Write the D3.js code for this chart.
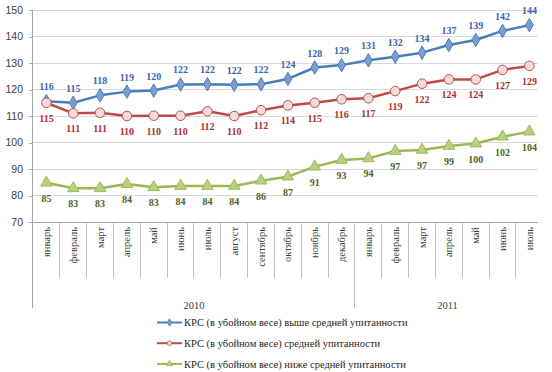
<!DOCTYPE html>
<html>
<head>
<meta charset="utf-8">
<script src="https://cdn.jsdelivr.net/npm/d3@7"></script>
<style>
  body { margin: 0; background: #fff; }
  svg { display: block; }
</style>
</head>
<body>
<div id="chart"></div>
<script>
// Monthly price lines for three grades of cattle, 2010 - July 2011

// Categories
let months = ["январь", "февраль", "март", "апрель", "май", "июнь", "июль", "август",
    "сентябрь", "октябрь", "ноябрь", "декабрь",
    "январь", "февраль", "март", "апрель", "май", "июнь", "июль"];
let years = [
    { label: "2010", from: 0, to: 12 },
    { label: "2011", from: 12, to: 19 }
];
let yTicks = [70, 80, 90, 100, 110, 120, 130, 140, 150];

// Series values (labels show them rounded)
let aboveAvg = [115.6, 115.0, 117.8, 119.2, 119.6, 121.9, 122.0, 121.8, 122.0, 124.0,
    128.3, 129.2, 131.0, 132.4, 133.9, 136.8, 138.7, 142.1, 144.3];
let average = [115.0, 111.0, 111.2, 110.0, 110.1, 110.1, 111.8, 110.0, 112.2, 114.0,
    115.0, 116.3, 116.7, 119.4, 122.2, 123.8, 123.8, 127.4, 128.9];
let belowAvg = [84.8, 82.7, 82.7, 84.3, 83.1, 83.6, 83.6, 83.6, 85.6, 87.1,
    90.9, 93.4, 94.0, 96.8, 97.2, 98.7, 99.6, 102.2, 104.1];

let seriesNames = [
    "КРС (в убойном весе) выше средней упитанности",
    "КРС (в убойном весе) средней упитанности",
    "КРС (в убойном весе) ниже средней упитанности"
];

let series = [
    { name: seriesNames[0], values: aboveAvg, line: "#4A7EBB", fill: "#7B9DD1", stroke: "#4A7EBB", text: "#3A64A6", marker: "diamond", labelPos: "above" },
    { name: seriesNames[1], values: average, line: "#BE4B48", fill: "#F2DCDB", stroke: "#C0504D", text: "#A8322F", marker: "circle", labelPos: "below" },
    { name: seriesNames[2], values: belowAvg, line: "#98B954", fill: "#B9D080", stroke: "#9BBB59", text: "#4F6228", marker: "triangle", labelPos: "below" }
];

// Chart size
let width = 552, height = 372;
let plot = { left: 33, right: 542.8, top: 10, bottom: 222 };

let svg = d3.select("#chart").append("svg")
    .attr("width", width)
    .attr("height", height);

let x = d3.scaleBand()
    .domain(d3.range(months.length))
    .range([plot.left, plot.right])
    .padding(0);

let y = d3.scaleLinear()
    .domain([70, 150])
    .range([plot.bottom, plot.top]);

// Gridlines
svg.append("g")
    .selectAll("line")
    .data(yTicks.slice(1))
    .join("line")
    .attr("x1", plot.left)
    .attr("x2", 538)
    .attr("y1", d => y(d))
    .attr("y2", d => y(d))
    .attr("stroke", "#d9d9d9")
    .attr("stroke-width", 1)
    .attr("shape-rendering", "crispEdges");

// Y axis
let yaxis = svg.append("g")
    .attr("transform", `translate(${plot.left},0)`)
    .call(d3.axisLeft(y).tickValues(yTicks).tickSize(4).tickPadding(6));
yaxis.select(".domain").attr("stroke", "#a6a6a6").attr("d", `M-0.5,${plot.bottom + 86}V${plot.top}`);
yaxis.selectAll(".tick line").attr("stroke", "#a6a6a6");
yaxis.selectAll(".tick text")
    .attr("fill", "#404040")
    .style("font-family", "'Liberation Sans', Arial, sans-serif")
    .style("font-size", "10.5px");
yaxis.attr("shape-rendering", "crispEdges");

// X axis line
svg.append("line")
    .attr("x1", plot.left)
    .attr("x2", 538)
    .attr("y1", plot.bottom)
    .attr("y2", plot.bottom)
    .attr("stroke", "#a6a6a6")
    .attr("shape-rendering", "crispEdges");

// Month separators (year boundaries run longer)
let boundaries = d3.range(1, months.length);
svg.append("g")
    .selectAll("line")
    .data(boundaries)
    .join("line")
    .attr("x1", d => x(d))
    .attr("x2", d => x(d))
    .attr("y1", plot.bottom)
    .attr("y2", d => years.some(yr => yr.from === d) ? plot.bottom + 86 : plot.bottom + 56)
    .attr("stroke", "#bfbfbf")
    .attr("shape-rendering", "crispEdges");

// Month labels
svg.append("g")
    .selectAll("text")
    .data(months)
    .join("text")
    .attr("transform", (d, i) => `translate(${x(i) + x.bandwidth() / 2 + 3.5},${plot.bottom + 5}) rotate(-90)`)
    .attr("text-anchor", "end")
    .attr("fill", "#404040")
    .style("font-family", "'Liberation Serif', 'Times New Roman', serif")
    .style("font-size", "10.5px")
    .text(d => d);

// Year labels
svg.append("g")
    .selectAll("text")
    .data(years)
    .join("text")
    .attr("x", d => (x(d.from) + Math.min(x(d.to - 1) + x.bandwidth(), 540)) / 2)
    .attr("y", plot.bottom + 87)
    .attr("text-anchor", "middle")
    .attr("fill", "#404040")
    .style("font-family", "'Liberation Serif', 'Times New Roman', serif")
    .style("font-size", "10.5px")
    .text(d => d.label);

// Lines
let line = d3.line()
    .x((d, i) => x(i) + x.bandwidth() / 2)
    .y(d => y(d));

let symbols = {
    diamond: d3.symbol().type(d3.symbolDiamond).size(52),
    circle: d3.symbol().type(d3.symbolCircle).size(72),
    triangle: d3.symbol().type(d3.symbolTriangle).size(58)
};

series.forEach(s => {
    let g = svg.append("g");
    g.append("path")
        .datum(s.values)
        .attr("fill", "none")
        .attr("stroke", s.line)
        .attr("stroke-width", 2.5)
        .attr("stroke-linejoin", "round")
        .attr("d", line);

    g.selectAll("path.pt")
        .data(s.values)
        .join("path")
        .attr("class", "pt")
        .attr("transform", (d, i) => `translate(${x(i) + x.bandwidth() / 2},${y(d)})`)
        .attr("d", symbols[s.marker])
        .attr("fill", s.fill)
        .attr("stroke", s.stroke)
        .attr("stroke-width", 1);

    g.selectAll("text")
        .data(s.values)
        .join("text")
        .attr("x", (d, i) => x(i) + x.bandwidth() / 2)
        .attr("y", d => s.labelPos === "above" ? y(d) - 11 : y(d) + 19)
        .attr("text-anchor", "middle")
        .attr("fill", s.text)
        .style("font-family", "'Liberation Serif', 'Times New Roman', serif")
        .style("font-weight", "bold")
        .style("font-size", "10px")
        .text(d => Math.round(d));
});

// Legend
let legend = svg.append("g")
    .selectAll("g")
    .data(series)
    .join("g")
    .attr("transform", (d, i) => `translate(157,${322.5 + i * 20.7})`);

legend.append("line")
    .attr("x1", 0)
    .attr("x2", 25)
    .attr("stroke", d => d.line)
    .attr("stroke-width", 2);

legend.append("path")
    .attr("transform", "translate(12.5,0)")
    .attr("d", d => d3.symbol().type(d.marker === "diamond" ? d3.symbolDiamond : d.marker === "circle" ? d3.symbolCircle : d3.symbolTriangle).size(16)())
    .attr("fill", d => d.fill)
    .attr("stroke", d => d.stroke)
    .attr("stroke-width", 0.8);

legend.append("text")
    .attr("x", 27)
    .attr("dy", "0.35em")
    .attr("fill", "#262626")
    .style("font-family", "'Liberation Serif', 'Times New Roman', serif")
    .style("font-size", "10.5px")
    .text(d => d.name);
</script>
</body>
</html>
